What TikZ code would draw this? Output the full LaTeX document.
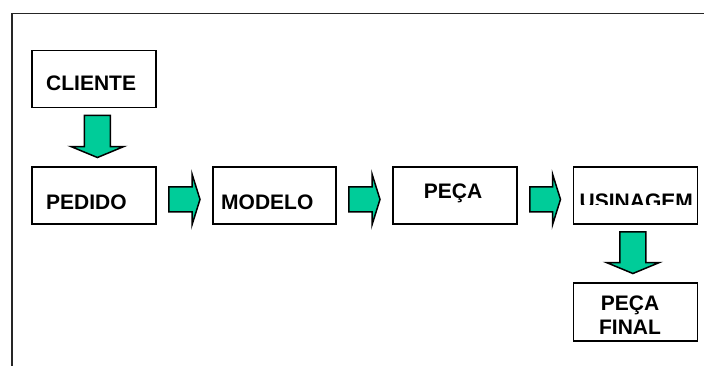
\documentclass[tikz,border=0pt]{standalone}
\usepackage{fontspec}
\setmainfont{Liberation Sans}
\usetikzlibrary{calc}
\definecolor{seagreen}{RGB}{0,204,153}
\tikzset{
  box/.style={draw=black, line width=1.8pt, fill=white, minimum width=124pt, minimum height=57pt, inner sep=0pt, anchor=north west},
  lbl/.style={font=\bfseries\fontsize{21}{24}\selectfont, inner sep=0pt, text=black},
  blk/.style={draw=black, line width=1.5pt, fill=seagreen, line join=miter}
}
\newcommand\harr[2]{%
  \draw[blk] let \p1=($(#1.east)+(12,4)$), \p2=($(#2.west)+(-12,4)$) in
    (\x1,\y1+12.5pt) -- (\x2-8pt,\y1+12.5pt) -- (\x2-8pt,\y1+25.5pt) -- (\x2,\y1)
    -- (\x2-8pt,\y1-25.5pt) -- (\x2-8pt,\y1-12.5pt) -- (\x1,\y1-12.5pt) -- cycle;}
\newcommand\varr[3]{%
  \draw[blk] let \p1=($(#1.south)+(#3,7)$), \p2=($(#2.north)+(0,-8.5)$) in
    (\x1-13pt,\y1) -- (\x1+13pt,\y1) -- (\x1+13pt,\y2+11pt) -- (\x1+26.5pt,\y2+11pt)
    -- (\x1,\y2) -- (\x1-26.5pt,\y2+11pt) -- (\x1-13pt,\y2+11pt) -- cycle;}
\begin{document}
\begin{tikzpicture}[x=1pt,y=-1pt]
\useasboundingbox (0,0) rectangle (704,365);
\fill[white] (0,0) rectangle (704,365);
% outer frame
\draw[line width=1.6pt, black!85] (12,366) -- (12,13.5) -- (705,13.5);
% boxes
\node[box] (cliente) at (31,49.5) {};
\node[box] (pedido) at (31,166) {};
\node[box, minimum width=123pt] (modelo) at (212,166) {};
\node[box] (peca) at (392,166) {};
\node[box, minimum width=124pt] (usinagem) at (572.5,166) {};
\node[box, minimum width=124pt, minimum height=58pt] (final) at (572.5,282) {};
% labels
\node[lbl, anchor=base west] (cliente-t) at (46,90) {CLIENTE};
\node[lbl, anchor=base west] (pedido-t) at (46,209.5) {PEDIDO};
\node[lbl, anchor=base west] (modelo-t) at (221,209) {MODELO};
\node[lbl, anchor=base] (peca-t) at (453,198) {PEÇA};
\begin{scope}
  \clip (574,167) rectangle (696,204.5);
  \node[lbl, anchor=base west] (usinagem-t) at (579.5,208) {USINAGEM};
\end{scope}
\node[lbl, align=center] (final-t) at (630,315.5) {PEÇA\\FINAL};
% block arrows
\varr{cliente}{pedido}{3.5}
\harr{pedido}{modelo}
\harr{modelo}{peca}
\harr{peca}{usinagem}
\varr{usinagem}{final}{-2.5}
\end{tikzpicture}
\end{document}
